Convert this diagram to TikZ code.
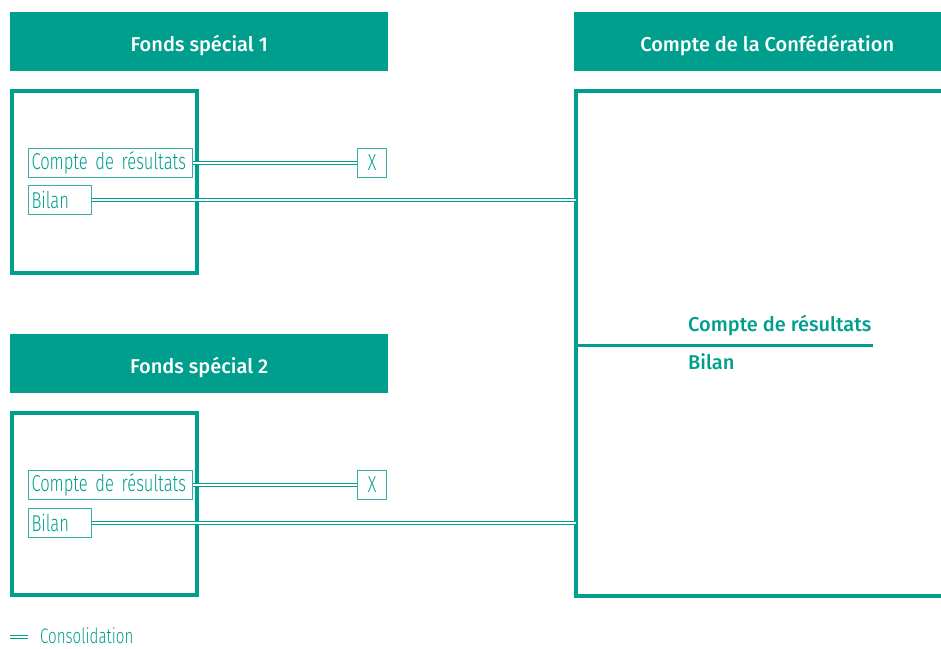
\documentclass[tikz,border=0pt]{standalone}
\usepackage{fontspec}
\setmainfont{Fira Sans}
\newfontfamily\lightfont[FakeStretch=0.72]{Fira Sans Light}
\newfontfamily\medfont{Fira Sans Medium}
\usetikzlibrary{positioning}
\definecolor{fundteal}{RGB}{0,158,140}

\tikzset{
  headbox/.style={fill=fundteal, text=white, minimum width=378, minimum height=59,
    text height=20pt, text depth=0pt,
    inner sep=0pt, anchor=north west, font=\medfont\fontsize{20}{24}\selectfont},
  frame/.style={draw=fundteal, line width=4pt},
  itembox/.style={draw=fundteal!80, line width=1pt, text=fundteal, inner xsep=3pt,
    inner ysep=0pt, minimum height=29, align=left,
    font=\lightfont\fontsize{23}{24}\selectfont},
  consol/.style={draw=fundteal, line width=1pt, double=white, double distance=2pt},
  conftext/.style={text=fundteal, inner sep=0pt, font=\medfont\fontsize{20}{24}\selectfont},
}

\begin{document}
\begin{tikzpicture}[x=1pt, y=-1pt]
  \useasboundingbox (0,0) rectangle (941,648);

  % headers
  \node[headbox] (head1) at (10,12) {Fonds spécial 1};
  \node[headbox] (head2) at (10,334) {Fonds spécial 2};
  \node[headbox, minimum width=386] (head3) at (574,12) {Compte de la Confédération};

  % frames
  \draw[frame] (12,91) rectangle (197,273);
  \draw[frame] (12,413) rectangle (197,595);
  \draw[frame] (945,91) -- (576,91) -- (576,596) -- (945,596);
  \coordinate (confL) at (576,0);

  % fund 1
  \node[itembox, anchor=west, text width=158] (cr1) at (28,162.5) {\mbox{Compte de résultats}};
  \node[itembox, anchor=west, text width=57] (bi1) at (28,200) {Bilan};
  \node[itembox, anchor=east, minimum width=29, inner xsep=0pt] (x1) at (387,162.5) {X};
  \draw[consol] (cr1.east) -- (x1.west);
  \draw[consol] (bi1.east) -- (bi1.east -| confL);

  % fund 2
  \node[itembox, anchor=west, text width=158] (cr2) at (28,485) {\mbox{Compte de résultats}};
  \node[itembox, anchor=west, text width=57] (bi2) at (28,522.5) {Bilan};
  \node[itembox, anchor=east, minimum width=29, inner xsep=0pt] (x2) at (387,485) {X};
  \draw[consol] (cr2.east) -- (x2.west);
  \draw[consol] (bi2.east) -- (bi2.east -| confL);

  % federal account
  \draw[fundteal, line width=3pt] (confL |- 0,345) -- (873,345);
  \node[conftext, anchor=south west] (crc) at (688,336) {Compte de résultats};
  \node[conftext, anchor=north west] (bic) at (688,353) {Bilan};

  % legend
  \coordinate (legA) at (10,637);
  \coordinate (legB) at (28,637);
  \draw[consol] (legA) -- (legB);
  \node[anchor=base west, text=fundteal, inner sep=0pt, font=\lightfont\fontsize{21}{22}\selectfont]
    (legtext) at (40,643) {Consolidation};
\end{tikzpicture}
\end{document}
